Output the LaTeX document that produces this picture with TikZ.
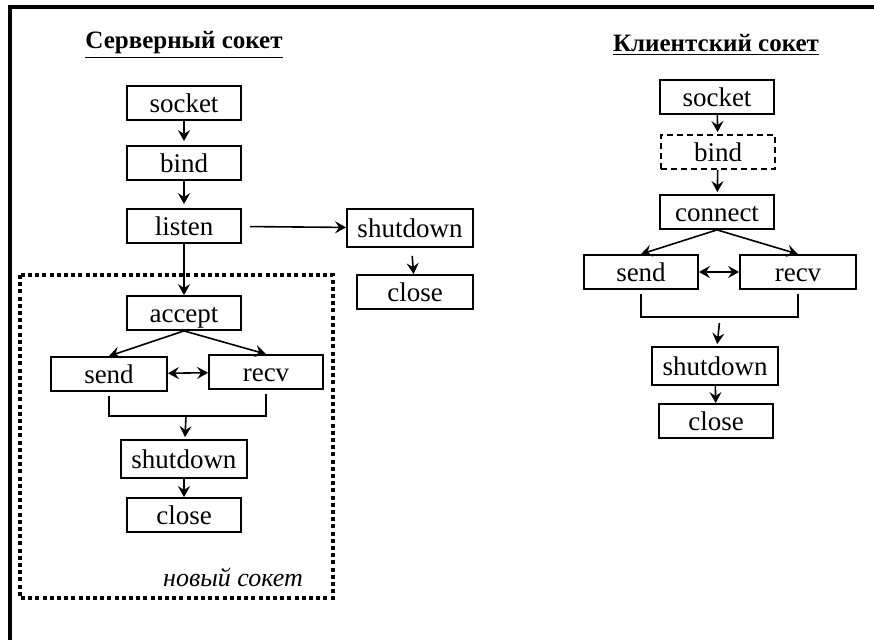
\documentclass[tikz,border=0pt]{standalone}
\usepackage{fontspec}
\setmainfont{Liberation Serif}
\usetikzlibrary{arrows.meta,positioning}

\tikzset{
  func/.style={draw, line width=0.9pt, minimum width=57pt, minimum height=17pt,
    inner sep=1pt, text height=9.5pt, text depth=0pt,
    font=\fontsize{13.5}{15}\selectfont},
  wide/.style={minimum width=63pt, minimum height=19pt},
  title/.style={font=\fontsize{12.5}{14}\selectfont\bfseries},
  arr/.style={-{Stealth[length=5.5pt,width=6pt,inset=2pt]}},
  dbl/.style={{Stealth[length=5.5pt,width=6pt,inset=2pt]}-{Stealth[length=5.5pt,width=6pt,inset=2pt]}},
}

\begin{document}
\begin{tikzpicture}[x=0.5pt, y=-0.5pt, line width=0.8pt]
    \useasboundingbox (0,0) rectangle (874,640);
    \draw[line width=2pt] (9.5,640) -- (9.5,7.5) -- (874,7.5);

    % server
    \node[title] (s_title) at (184,45) {\underline{Серверный сокет}};
    \node[func] (s_socket) at (184,103) {socket};
    \node[func] (s_bind)   at (184,163) {bind};
    \node[func] (s_listen) at (184,226) {listen};
    \node[func, wide] (s_shut2)  at (410,228) {shutdown};
    \node[func, minimum width=58pt] (s_close2) at (415,292) {close};
    \node[func] (s_accept) at (184,313) {accept};
    \node[func, minimum width=58pt] (s_send) at (109,374) {send};
    \node[func] (s_recv)   at (266,372) {recv};
    \node[func, wide] (s_shut) at (184,459) {shutdown};
    \node[func] (s_close)  at (184,515) {close};
    \coordinate (s_join) at (186,416);
    \node[font=\fontsize{13}{15}\selectfont\itshape] (s_new) at (233,577) {новый сокет};
    \draw[line width=2pt, dash pattern=on 2pt off 1.6pt] (20,275) rectangle (333,598);

    \path[arr]
        (s_socket) edge[shorten >=2pt] (s_bind)
        (s_bind) edge[shorten >=2pt] (s_listen)
        (s_listen) edge (s_accept)
        (s_listen) edge[shorten <=4pt] (s_shut2)
        (s_shut2) edge[shorten <=4pt] (s_close2)
        (s_accept.south) edge (s_send.north)
        (s_accept.south) edge (s_recv.north)
        (s_send) edge[dbl] (s_recv)
        (s_join) edge[shorten >=1pt] (s_shut)
        (s_shut) edge (s_close);
    \draw ([yshift=-2pt]s_send.south) |- (s_join) -| ([yshift=-2pt]s_recv.south);

    % client
    \node[title] (c_title) at (716,45) {\underline{Клиентский сокет}};
    \node[func] (c_socket)  at (717,97) {socket};
    \node[func, dashed, dash pattern=on 3pt off 2pt] (c_bind) at (718,152) {bind};
    \node[func] (c_connect) at (717,212) {connect};
    \node[func] (c_send)    at (641,272) {send};
    \node[func, minimum width=58pt] (c_recv) at (798,272) {recv};
    \node[func, wide] (c_shut) at (715,366) {shutdown};
    \node[func] (c_close)   at (716,421) {close};
    \coordinate (c_join) at (720,317);

    \path[arr]
        (c_socket) edge[shorten >=1pt] (c_bind)
        (c_bind) edge[shorten >=1pt] (c_connect)
        (c_connect.south) edge (c_send.north)
        (c_connect.south) edge (c_recv.north)
        (c_send) edge[dbl] (c_recv)
        (c_join) edge[shorten <=3pt, shorten >=1pt] (c_shut)
        (c_shut) edge (c_close);
    \draw ([yshift=-2pt]c_send.south) |- (c_join) -| ([yshift=-2pt]c_recv.south);
\end{tikzpicture}
\end{document}
